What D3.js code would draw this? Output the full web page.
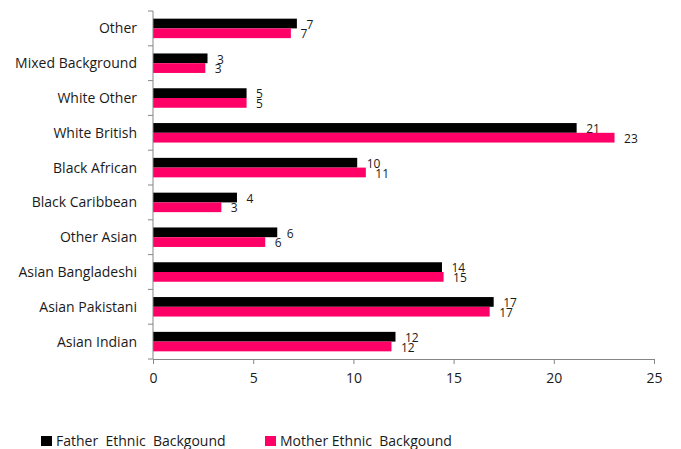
<!DOCTYPE html>
<html>
<head>
<meta charset="utf-8">
<script src="https://cdn.jsdelivr.net/npm/d3@7"></script>
<style>
  html, body { margin: 0; padding: 0; background: #fff; }
  svg text { font-family: "Open Sans", sans-serif; fill: #1a1a1a; }
</style>
</head>
<body>
<svg id="chart" width="681" height="449"></svg>
<script>
// Ethnic background of parents (%), top to bottom as listed
const categories = ["Other", "Mixed Background", "White Other", "White British", "Black African",
                    "Black Caribbean", "Other Asian", "Asian Bangladeshi", "Asian Pakistani", "Asian Indian"];
const fatherValues = [7.18, 2.72, 4.67, 21.14, 10.19, 4.19, 6.2, 14.42, 17.0, 12.1];
const motherValues = [6.88, 2.61, 4.67, 23.03, 10.62, 3.41, 5.6, 14.5, 16.8, 11.9];
const xTicks = [0, 5, 10, 15, 20, 25];
const seriesNames = ["Father  Ethnic  Backgound", "Mother Ethnic  Backgound"];
const seriesColors = ["#000000", "#FF0066"];

const svg = d3.select("#chart");
const margin = { left: 153, top: 11 };
const axisY = 359, axisRight = 654;

const x = d3.scaleLinear().domain([0, 25]).range([margin.left, axisRight]);
const y = d3.scaleBand().domain(categories).range([margin.top, axisY]).paddingInner(0.44).paddingOuter(0.22);
const sub = d3.scaleBand().domain([0, 1]).range([0, y.bandwidth()]);

const series = [fatherValues, motherValues];
const fmt = d3.format(".0f");

// bars with their value labels
series.forEach((vals, si) => {
  svg.append("g").selectAll("rect").data(vals).join("rect")
    .attr("x", x(0))
    .attr("y", (d, i) => y(categories[i]) + sub(si))
    .attr("width", d => x(d) - x(0))
    .attr("height", sub.bandwidth())
    .attr("fill", seriesColors[si]);
  svg.append("g").selectAll("text").data(vals).join("text")
    .attr("x", d => x(d) + 9.5)
    .attr("y", (d, i) => y(categories[i]) + sub(si) + sub.bandwidth() / 2 + 1)
    .attr("dy", "0.35em")
    .attr("font-size", 12)
    .text(d => fmt(d));
});

// x axis
const xAxis = svg.append("g")
  .attr("transform", `translate(0,${axisY})`)
  .call(d3.axisBottom(x).tickValues(xTicks).tickSize(5).tickPadding(9).tickSizeOuter(0));
xAxis.select(".domain").attr("stroke", "#868686");
xAxis.selectAll(".tick line").attr("stroke", "#868686");
xAxis.selectAll("text").attr("font-size", 14).attr("fill", "#1a1a1a");

// y axis: tick marks sit at band boundaries
const yAxisG = svg.append("g");
yAxisG.append("line").attr("x1", x(0)).attr("x2", x(0)).attr("y1", margin.top).attr("y2", axisY)
  .attr("stroke", "#868686");
d3.range(categories.length + 1).forEach(k => {
  const yy = margin.top + k * y.step();
  yAxisG.append("line").attr("x1", x(0) - 5).attr("x2", x(0)).attr("y1", yy).attr("y2", yy)
    .attr("stroke", "#868686");
});
yAxisG.selectAll("text.cat").data(categories).join("text")
  .attr("class", "cat")
  .attr("x", x(0) - 16)
  .attr("y", d => y(d) + y.bandwidth() / 2)
  .attr("dy", "0.35em")
  .attr("text-anchor", "end")
  .attr("font-size", 14)
  .text(d => d);

// legend
const legend = svg.append("g");
const legendX = [41, 265];
seriesNames.forEach((name, i) => {
  legend.append("rect").attr("x", legendX[i]).attr("y", 436).attr("width", 11).attr("height", 10)
    .attr("fill", seriesColors[i]);
  legend.append("text").attr("x", legendX[i] + 15).attr("y", 441).attr("dy", "0.35em")
    .attr("font-size", 14).style("white-space", "pre").text(name);
});
</script>
</body>
</html>
